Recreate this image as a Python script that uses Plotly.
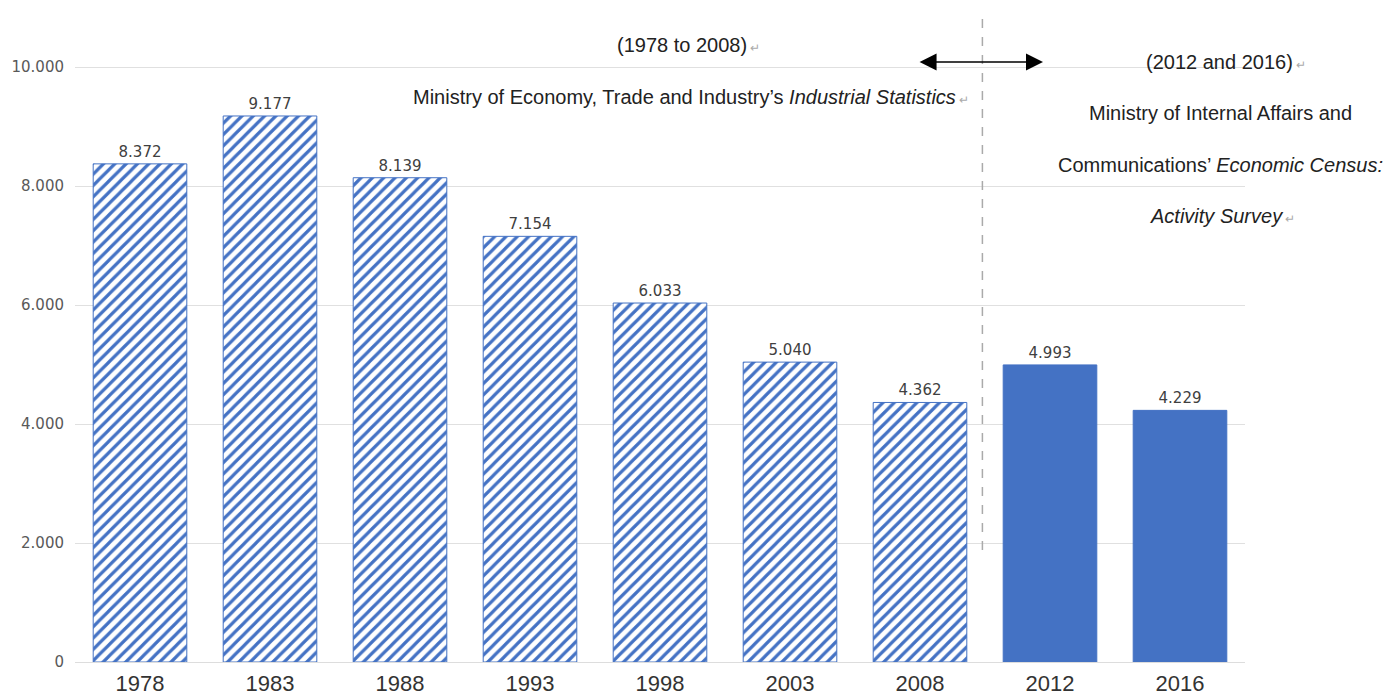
import plotly.graph_objects as go

years = ["1978", "1983", "1988", "1993", "1998", "2003", "2008", "2012", "2016"]
values = [8372, 9177, 8139, 7154, 6033, 5040, 4362, 4993, 4229]
hatched_years = years[:7]
hatched_values = values[:7]
solid_years = years[7:]
solid_values = values[7:]

BLUE = "#4472C4"

fig = go.Figure()
fig.add_trace(go.Bar(
    x=hatched_years, y=hatched_values,
    width=0.72,
    marker=dict(color="white", line=dict(color=BLUE, width=1),
                pattern=dict(shape="/", fgcolor=BLUE, bgcolor="white", size=8, solidity=0.4, fillmode="replace")),
    texttemplate="%{y:,d}", textposition="outside",
    textfont=dict(family="DejaVu Sans", size=15, color="#404040"),
    cliponaxis=False, showlegend=False,
))
fig.add_trace(go.Bar(
    x=solid_years, y=solid_values,
    width=0.72,
    marker=dict(color=BLUE, line=dict(color=BLUE, width=1)),
    texttemplate="%{y:,d}", textposition="outside",
    textfont=dict(family="DejaVu Sans", size=15, color="#404040"),
    cliponaxis=False, showlegend=False,
))

ret = "<span style='color:#aaaaaa;font-size:12px'> ↵</span>"
afont = dict(family="Liberation Sans, Arial", size=20, color="#222222")
# positions: px -> category index (px-75)/130-0.5 ; py -> value (662-py)/0.0595
annots = [
    dict(x=4.223, y=10370, text="(1978 to 2008)" + ret),
    dict(x=4.238, y=9496, text="Ministry of Economy, Trade and Industry’s <i>Industrial Statistics</i>" + ret),
    dict(x=8.354, y=10084, text="(2012 and 2016)" + ret),
    dict(x=8.308, y=9227, text="Ministry of Internal Affairs and"),
    dict(x=8.315, y=8353, text="Communications’ <i>Economic Census:</i>"),
    dict(x=8.331, y=7496, text="<i>Activity Survey</i>" + ret),
]
for a in annots:
    fig.add_annotation(xref="x", yref="y", showarrow=False, font=afont, xanchor="center", yanchor="middle", **a)

# double-headed arrow
fig.add_annotation(xref="x", yref="y", axref="x", ayref="y",
                   x=6.946, y=10084, ax=5.985, ay=10084, text="",
                   showarrow=True, arrowhead=2, arrowside="end+start",
                   arrowsize=2.0, arrowwidth=1.7, arrowcolor="black")

# dashed divider
fig.add_shape(type="line", xref="x", yref="y", x0=6.48, x1=6.48, y0=1882, y1=10924,
              line=dict(color="#aaaaaa", width=1.5, dash="dash"))

fig.update_layout(
    width=1398, height=698,
    margin=dict(l=75, r=153, t=0, b=36),
    paper_bgcolor="white", plot_bgcolor="white",
    separators=",.",
    barmode="overlay",
    xaxis=dict(type="category", categoryorder="array", categoryarray=years,
               range=[-0.5, 8.5], showgrid=False, showline=False, ticks="",
               ticklabelstandoff=6,
               tickfont=dict(family="Liberation Sans, Arial", size=22, color="#333333")),
    yaxis=dict(range=[0, 11126], tickvals=[0, 2000, 4000, 6000, 8000, 10000],
               tickformat=",d", showgrid=True, gridcolor="#e0e0e0", gridwidth=1,
               zeroline=True, zerolinecolor="#dddddd", zerolinewidth=1,
               showline=False, ticks="", ticklabelstandoff=10,
               tickfont=dict(family="DejaVu Sans", size=15, color="#595959")),
)

fig.write_html("out.html")
